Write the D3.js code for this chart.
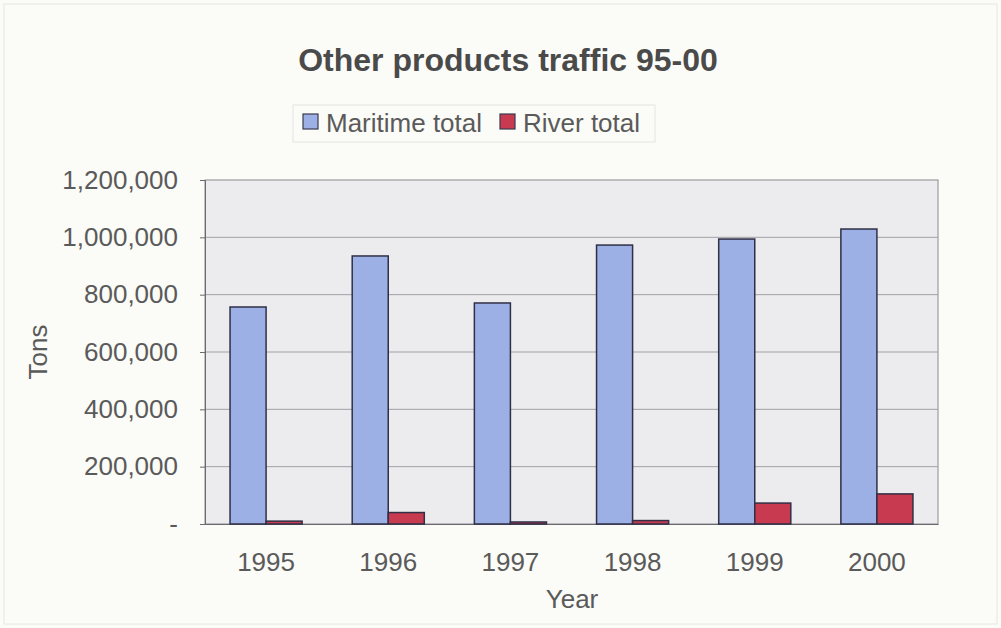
<!DOCTYPE html>
<html><head><meta charset="utf-8">
<script src="https://cdn.jsdelivr.net/npm/d3@7"></script>
<style>body{margin:0;background:#fbfbf7;}svg{display:block;font-family:"Liberation Sans",Arial,sans-serif;}</style>
</head><body>
<svg id="c" width="1001" height="628"></svg>
<script>
const years = ["1995","1996","1997","1998","1999","2000"];
const seriesNames = ["Maritime total","River total"];
const maritime = [757000, 935000, 771000, 973000, 994000, 1029000];
const river = [10000, 40000, 7000, 12000, 73000, 105000];
const yTicks = [0, 200000, 400000, 600000, 800000, 1000000, 1200000];
const colors = ["#9cb0e6", "#c73a50"];

const svg = d3.select("#c");
const m = {left:205, right:938, top:180, bottom:524};
svg.append("rect").attr("x",0).attr("y",0).attr("width",1001).attr("height",628).attr("fill","#fbfbf7");
svg.append("rect").attr("x",4).attr("y",4).attr("width",993).attr("height",620).attr("fill","none").attr("stroke","#e8e8e2");

const x = d3.scaleBand().domain(years).range([m.left, m.right]).paddingInner(0.41).paddingOuter(0.205);
const xs = d3.scaleBand().domain(seriesNames).range([0, x.bandwidth()]);
const y = d3.scaleLinear().domain([0,1200000]).range([m.bottom, m.top]);

svg.append("rect").attr("x",m.left).attr("y",m.top).attr("width",m.right-m.left).attr("height",m.bottom-m.top)
  .attr("fill","#ececef").attr("stroke","#8a8a90").attr("stroke-width",1);

svg.append("g").selectAll("line").data(yTicks.slice(1,-1)).join("line")
  .attr("x1",m.left).attr("x2",m.right).attr("y1",d=>y(d)).attr("y2",d=>y(d))
  .attr("stroke","#a0a0a6").attr("stroke-width",1);

const fmt = d => d===0 ? "-" : d3.format(",")(d);
const yAxis = svg.append("g").attr("transform",`translate(${m.left},0)`)
  .call(d3.axisLeft(y).tickValues(yTicks).tickFormat(fmt).tickSize(5).tickPadding(22));
yAxis.select(".domain").attr("stroke","#6a6a70");
yAxis.selectAll(".tick line").attr("stroke","#6a6a70");
yAxis.selectAll("text").attr("fill","#5a5a5a").style("font-size","26px").style("font-family","Liberation Sans, Arial, sans-serif");

const xAxis = svg.append("g").attr("transform",`translate(0,${m.bottom})`)
  .call(d3.axisBottom(x).tickSize(0).tickPadding(29));
xAxis.select(".domain").attr("stroke","#6a6a70");
xAxis.selectAll("text").attr("fill","#5a5a5a").style("font-size","26px").style("font-family","Liberation Sans, Arial, sans-serif");

const data = [maritime, river];
data.forEach((vals,si)=>{
  svg.append("g").selectAll("rect").data(vals).join("rect")
    .attr("x",(d,i)=>x(years[i])+xs(seriesNames[si]))
    .attr("y",d=>y(d)).attr("width",xs.bandwidth()).attr("height",d=>m.bottom-y(d))
    .attr("fill",colors[si]).attr("stroke","#2f2f45").attr("stroke-width",1.5);
});

svg.append("text").attr("x",508).attr("y",71).attr("text-anchor","middle")
  .attr("fill","#4a4a4a").style("font-size","32px").style("font-weight","bold").text("Other products traffic 95-00");

svg.append("text").attr("transform","translate(47,352) rotate(-90)").attr("text-anchor","middle")
  .attr("fill","#5a5a5a").style("font-size","26px").text("Tons");
svg.append("text").attr("x",572).attr("y",608).attr("text-anchor","middle")
  .attr("fill","#5a5a5a").style("font-size","26px").text("Year");

// legend
svg.append("rect").attr("x",293).attr("y",105).attr("width",362).attr("height",37).attr("fill","#fbfbf7").attr("stroke","#e4e4e4");
const lg = [{n:seriesNames[0],c:colors[0],x:303},{n:seriesNames[1],c:colors[1],x:500}];
lg.forEach(l=>{
  svg.append("rect").attr("x",l.x).attr("y",114).attr("width",15).attr("height",15).attr("fill",l.c).attr("stroke","#3a3a50").attr("stroke-width",1.2);
  svg.append("text").attr("x",l.x+23).attr("y",132).attr("fill","#5a5a5a").style("font-size","26px").text(l.n);
});
</script>
</body></html>
